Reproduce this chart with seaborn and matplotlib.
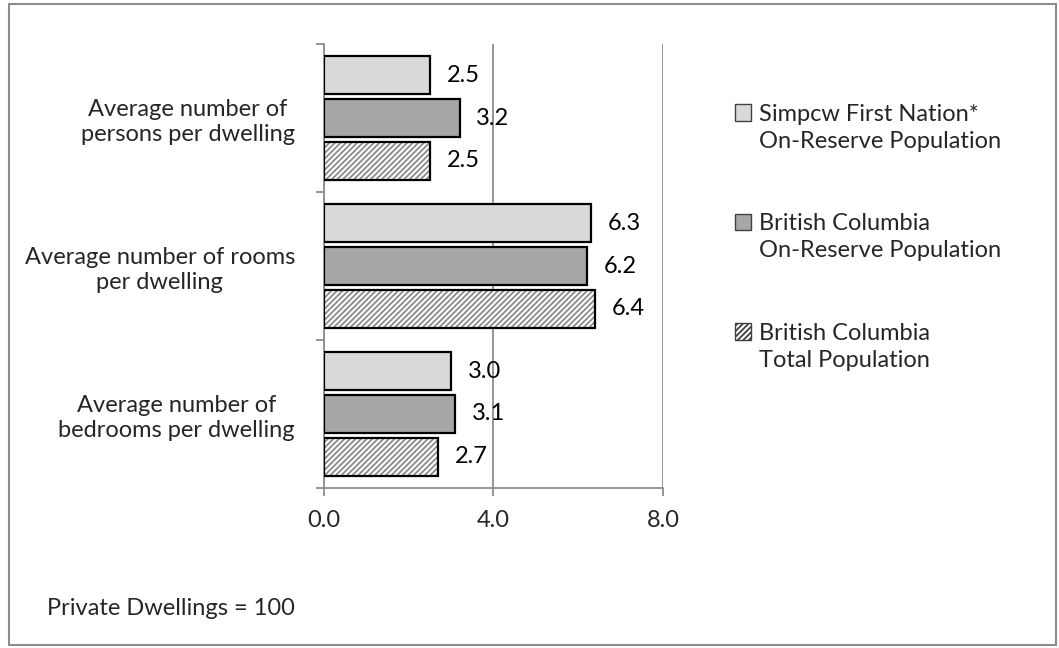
import matplotlib
matplotlib.use("Agg")
import matplotlib.pyplot as plt
from matplotlib.patches import Patch, Rectangle
from matplotlib.ticker import FixedLocator
import seaborn as sns
import pandas as pd

categories = [
    "Average number of\npersons per dwelling",
    "Average number of rooms\nper dwelling",
    "Average number of\nbedrooms per dwelling",
]
series_names = [
    "Simpcw First Nation*\nOn-Reserve Population",
    "British Columbia\nOn-Reserve Population",
    "British Columbia\nTotal Population",
]
simpcw_on_reserve = [2.5, 6.3, 3.0]
bc_on_reserve = [3.2, 6.2, 3.1]
bc_total = [2.5, 6.4, 2.7]
x_ticks = [0.0, 4.0, 8.0]
footnote = "Private Dwellings = 100"

FS = 17
GRID = "#8c8c8c"

sns.set_theme(style="white")
plt.rcParams["font.family"] = ["Lato", "DejaVu Sans"]
plt.rcParams["hatch.linewidth"] = 1.3

rows = []
for name, vals in zip(series_names, [simpcw_on_reserve, bc_on_reserve, bc_total]):
    for cat, v in zip(categories, vals):
        rows.append({"category": cat, "series": name, "value": v})
df = pd.DataFrame(rows)

fills = ["#d9d9d9", "#a6a6a6", "#ffffff"]
fig = plt.figure(figsize=(10.59, 6.48), dpi=100)
ax = fig.add_axes([0.306, 0.247, 0.320, 0.685])

sns.barplot(data=df, y="category", x="value", hue="series", order=categories,
            hue_order=series_names, palette=fills, orient="h", width=0.87, gap=0.1,
            edgecolor="black", linewidth=1.6, ax=ax, legend=False, saturation=1)

for i, cont in enumerate(ax.containers):
    for p in cont.patches:
        p.set_zorder(3)
        if i == 2:
            p.set_hatch("//////")
            p.set_edgecolor("#8a8a8a")
            p.set_linewidth(0)
            ax.add_patch(Rectangle(p.get_xy(), p.get_width(), p.get_height(),
                                   fill=False, edgecolor="black", linewidth=1.6,
                                   zorder=3.1))
    ax.bar_label(cont, fmt="%.1f", padding=12, fontsize=FS, color="black", zorder=4)

ax.set_xlim(0, 8)
ax.set_ylim(2.5, -0.5)
ax.set_xticks(x_ticks)
ax.set_xticklabels([f"{t:.1f}" for t in x_ticks], fontsize=FS)
ax.xaxis.grid(True, color=GRID, linewidth=1.3)
ax.set_axisbelow(True)
ax.set_xlabel("")
ax.set_ylabel("")
ax.tick_params(axis="x", direction="out", length=6, width=1.3, color=GRID,
               pad=10, bottom=True)
ax.tick_params(axis="y", which="major", length=0, pad=21)
ax.yaxis.set_minor_locator(FixedLocator([-0.5, 0.5, 1.5, 2.5]))
ax.tick_params(axis="y", which="minor", direction="out", length=6, width=1.3,
               color=GRID, left=True)
for lbl in ax.get_yticklabels():
    lbl.set_fontsize(FS)
    lbl.set_multialignment("center")
    lbl.set_linespacing(1.25)

for side in ["top", "right"]:
    ax.spines[side].set_visible(False)
for side in ["left", "bottom"]:
    ax.spines[side].set_color(GRID)
    ax.spines[side].set_linewidth(1.3)

# legend: one block per series, swatch beside the first line of its label
blank = Patch(facecolor="none", edgecolor="none")
for k, name in enumerate(series_names):
    first, second = name.split("\n")
    sw = Patch(facecolor=fills[k], edgecolor="#404040", linewidth=1.0,
               hatch="//////" if k == 2 else None)
    leg = fig.legend([sw, blank], [first, second], loc="upper left",
                     bbox_to_anchor=(0.694, 0.840 - k * 0.169), frameon=False,
                     fontsize=FS, handlelength=0.7, handleheight=0.7,
                     handletextpad=0.3, labelspacing=0.25, borderpad=0,
                     borderaxespad=0)

fig.text(0.044, 0.051, footnote, fontsize=FS)
fig.patches.append(Rectangle((0.0085, 0.004), 0.989, 0.99, transform=fig.transFigure,
                             fill=False, edgecolor=GRID, linewidth=1.5))

fig.savefig("out.png", dpi=100)
